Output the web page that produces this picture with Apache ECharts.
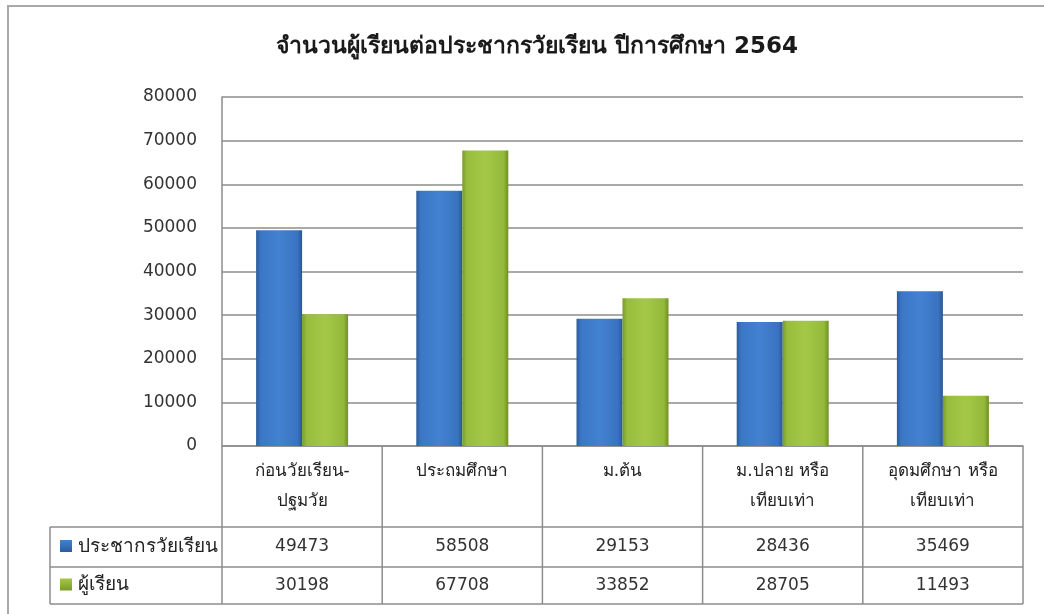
<!DOCTYPE html>
<html><head><meta charset="utf-8">
<script src="https://cdn.jsdelivr.net/npm/echarts@6/dist/echarts.min.js"></script>
<style>html,body{margin:0;padding:0;background:#fff}#c{width:1044px;height:614px}</style>
</head><body><div id="c"></div><script>
const chartTitle = 'จำนวนผู้เรียนต่อประชากรวัยเรียน ปีการศึกษา 2564';
const categories = ['ก่อนวัยเรียน-\nปฐมวัย', 'ประถมศึกษา', 'ม.ต้น', 'ม.ปลาย หรือ\nเทียบเท่า', 'อุดมศึกษา หรือ\nเทียบเท่า'];
const seriesNames = ['ประชากรวัยเรียน', 'ผู้เรียน'];
const population = [49473, 58508, 29153, 28436, 35469];
const students = [30198, 67708, 33852, 28705, 11493];
const yMin = 0, yMax = 80000, yStep = 10000;

const FONT = 'Tahoma, "DejaVu Sans", "Noto Sans", sans-serif';
const LINE = '#8c8c8c';
const G = {left: 222, right: 1023, top: 97, bottom: 446};
const ROWS = [446, 527, 567, 604];
const TABLE_LEFT = 50;

const blueGrad = {type: 'linear', x: 0, y: 0, x2: 1, y2: 0, colorStops: [
  {offset: 0, color: '#2d5c9c'}, {offset: 0.1, color: '#3b77c5'}, {offset: 0.5, color: '#4282d1'},
  {offset: 0.9, color: '#3a73bf'}, {offset: 1, color: '#2b5793'}]};
const greenGrad = {type: 'linear', x: 0, y: 0, x2: 1, y2: 0, colorStops: [
  {offset: 0, color: '#7a9a2c'}, {offset: 0.1, color: '#98bd3d'}, {offset: 0.5, color: '#a4c846'},
  {offset: 0.9, color: '#94b83a'}, {offset: 1, color: '#708e26'}]};
const grads = [blueGrad, greenGrad];
const rowsData = [population, students];

const chart = echarts.init(document.getElementById('c'));
chart.setOption({
  animation: false,
  backgroundColor: '#fff',
  title: {text: chartTitle, left: 532, top: 31, textAlign: 'center',
    textStyle: {fontFamily: FONT, fontSize: 23, fontWeight: 'bold', color: '#1a1a1a'}},
  grid: {left: G.left, right: 1044 - G.right, top: G.top, bottom: 614 - G.bottom, containLabel: false},
  xAxis: {type: 'category', data: categories,
    axisLine: {show: true, lineStyle: {color: LINE, width: 1.5}},
    axisTick: {show: false},
    axisLabel: {fontFamily: FONT, fontSize: 17, color: '#222', lineHeight: 30, margin: 11,
      interval: 0, verticalAlign: 'top'}
  },
  yAxis: {type: 'value', min: yMin, max: yMax, interval: yStep,
    axisLine: {show: true, lineStyle: {color: LINE, width: 1.5}},
    axisTick: {show: false},
    splitLine: {lineStyle: {color: LINE, width: 1.5}},
    axisLabel: {fontFamily: FONT, fontSize: 17, color: '#333', margin: 25, formatter: v => String(v)}
  },
  series: seriesNames.map((n, i) => ({
    name: n, type: 'bar', data: rowsData[i], barWidth: 46, barGap: '0%',
    itemStyle: {color: grads[i]}
  }))
});

const colW = (G.right - G.left) / categories.length;
const gfx = [];
gfx.push({type: 'rect', shape: {x: 8, y: 6, width: 1100, height: 700}, silent: true,
  style: {fill: 'none', stroke: '#a8a8a8', lineWidth: 2}});
function hline(y, x1, x2) { gfx.push({type: 'line', shape: {x1, y1: y, x2, y2: y}, style: {stroke: LINE, lineWidth: 1.5}}); }
function vline(x, y1, y2) { gfx.push({type: 'line', shape: {x1: x, y1, x2: x, y2}, style: {stroke: LINE, lineWidth: 1.5}}); }
hline(ROWS[1], TABLE_LEFT, G.right);
hline(ROWS[2], TABLE_LEFT, G.right);
hline(ROWS[3], TABLE_LEFT, G.right);
vline(TABLE_LEFT, ROWS[1], ROWS[3]);
for (let i = 0; i <= categories.length; i++) vline(G.left + i * colW, ROWS[0], ROWS[3]);
rowsData.forEach((arr, r) => {
  const yc = (ROWS[r + 1] + ROWS[r + 2]) / 2;
  arr.forEach((v, i) => {
    const xc = chart.convertToPixel({xAxisIndex: 0}, i);
    gfx.push({type: 'text', x: xc, y: yc, style: {text: String(v), fontFamily: FONT, fontSize: 17,
      fill: '#333', align: 'center', verticalAlign: 'middle'}});
  });
  gfx.push({type: 'rect', shape: {x: 60, y: yc - 7, width: 12, height: 12},
    style: {fill: {type: 'linear', x: 0, y: 0, x2: 0, y2: 1, colorStops: [
      {offset: 0, color: grads[r].colorStops[2].color}, {offset: 1, color: grads[r].colorStops[0].color}]}}});
  gfx.push({type: 'text', x: 78, y: yc, style: {text: seriesNames[r], fontFamily: FONT, fontSize: 19,
    fill: '#222', align: 'left', verticalAlign: 'middle'}});
});
chart.setOption({graphic: gfx});
</script></body></html>
